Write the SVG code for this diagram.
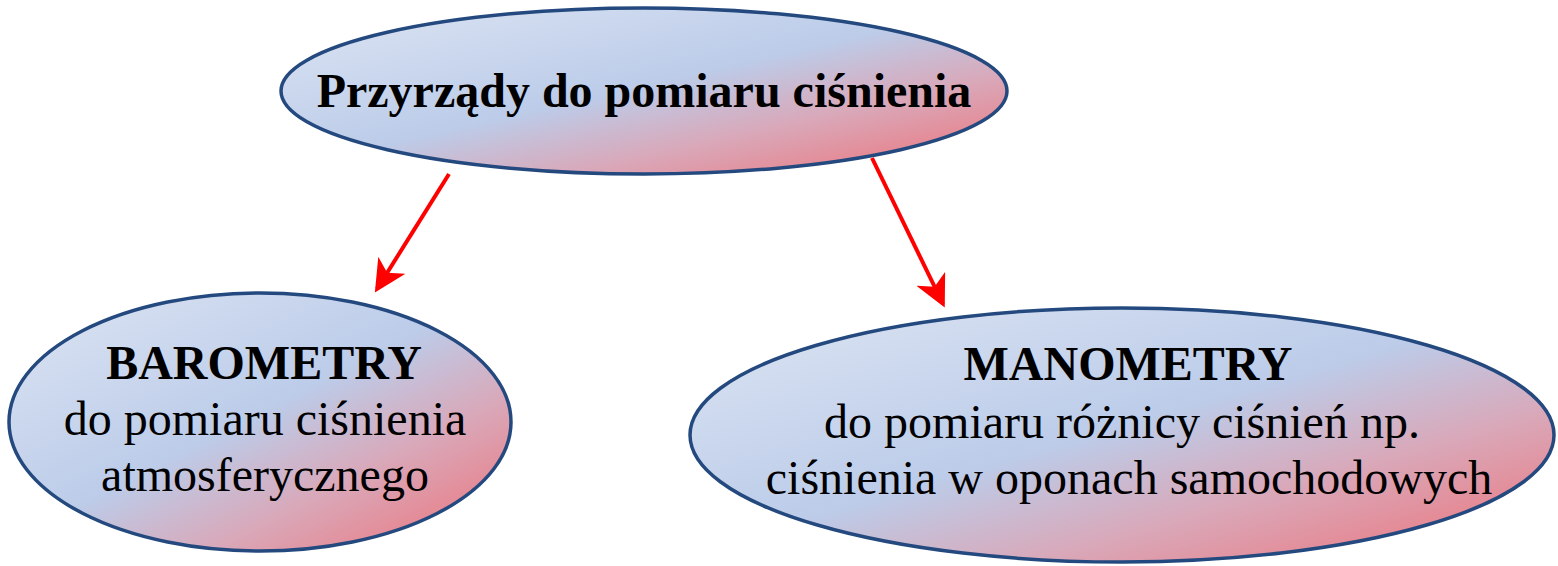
<svg xmlns="http://www.w3.org/2000/svg" width="1558" height="566" viewBox="0 0 1558 566">
<style>
.node{stroke:#24497f;stroke-width:3.5;fill:url(#g)}
.t{font-family:"Liberation Serif","Times New Roman",serif;font-size:48px;fill:#000;text-anchor:middle}
.b{font-weight:bold}
.conn{stroke:#ff0000;stroke-width:4;fill:none;marker-end:url(#ah)}
</style>
<defs>
<linearGradient id="g" x1="0" y1="0" x2="1" y2="1">
<stop offset="0" stop-color="#dde5f3"/>
<stop offset="0.48" stop-color="#bccce9"/>
<stop offset="0.7" stop-color="#d9a8b9"/>
<stop offset="1" stop-color="#f06e74"/>
</linearGradient>
<marker id="ah" markerWidth="8" markerHeight="8" refX="7" refY="4" orient="auto" markerUnits="strokeWidth">
<path d="M0,0 L8,4 L0,8 L2.2,4 Z" fill="#ff0000"/>
</marker>
</defs>
<g id="connectors">
<line class="conn" x1="449" y1="174" x2="377" y2="289"/>
<line class="conn" x1="872" y1="158" x2="943" y2="304"/>
</g>
<g id="top">
<ellipse class="node" cx="644" cy="91" rx="363" ry="83"/>
<text class="t b" x="644" y="107">Przyrządy do pomiaru ciśnienia</text>
</g>
<g id="barometry">
<ellipse class="node" cx="260" cy="422" rx="251" ry="129"/>
<text class="t b" x="264" y="379">BAROMETRY</text>
<text class="t" x="265" y="435">do pomiaru ciśnienia</text>
<text class="t" x="265" y="491">atmosferycznego</text>
</g>
<g id="manometry">
<ellipse class="node" cx="1122" cy="435" rx="432" ry="127"/>
<text class="t b" x="1128" y="380">MANOMETRY</text>
<text class="t" x="1122" y="438">do pomiaru różnicy ciśnień np.</text>
<text class="t" x="1129" y="494">ciśnienia w oponach samochodowych</text>
</g>
</svg>
